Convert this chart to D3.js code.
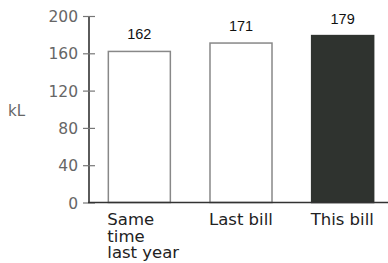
<!DOCTYPE html>
<html><head><meta charset="utf-8">
<script src="https://cdn.jsdelivr.net/npm/d3@7"></script>
<style>body{margin:0;background:#fff}svg{display:block}</style>
</head><body>
<svg id="c" width="388" height="263"></svg>
<script>
const categories = [["Same","time","last year"],["Last bill"],["This bill"]];
const values = [162, 171, 179];
const yTicks = [0, 40, 80, 120, 160, 200];
const yLabel = "kL";

const svg = d3.select("#c");
const keys = categories.map(c => c.join(" "));
const x = d3.scaleBand().domain(keys).range([88, 394]).paddingInner(0.39).paddingOuter(0.2);
const y = d3.scaleLinear().domain([0, 200]).range([202.5, 16]);

// y axis
const yAxis = d3.axisLeft(y).tickValues(yTicks).tickSize(6).tickPadding(3);
const gy = svg.append("g").attr("transform", "translate(89,0)").call(yAxis);
gy.select(".domain").attr("stroke", "#333").attr("stroke-width", 1.6).attr("d", `M0,${y(200)}V${y(0)}`);
gy.selectAll(".tick line").attr("stroke", "#777").attr("stroke-width", 1.2).attr("x1", 6).attr("x2", -6);
gy.selectAll(".tick text").attr("font-family", "DejaVu Sans").attr("font-size", 15.5).attr("fill", "#666").attr("dx", -2).attr("dy", "0.36em");

svg.append("text").attr("x", 8).attr("y", 116).text(yLabel)
  .attr("font-family", "DejaVu Sans").attr("font-size", 15).attr("fill", "#666");

// bars
svg.selectAll("rect.bar").data(values).join("rect")
  .attr("class", "bar")
  .attr("x", (d, i) => x(keys[i]))
  .attr("y", d => y(d))
  .attr("width", x.bandwidth())
  .attr("height", d => y(0) - y(d))
  .attr("fill", (d, i) => i === 2 ? "#2f332f" : "#fff")
  .attr("stroke", (d, i) => i === 2 ? "#2f332f" : "#888")
  .attr("stroke-width", 1.5);

// baseline
svg.append("line").attr("x1", 88).attr("x2", 388).attr("y1", y(0)).attr("y2", y(0))
  .attr("stroke", "#333").attr("stroke-width", 1.6);

// value labels
svg.selectAll("text.val").data(values).join("text")
  .attr("class", "val")
  .attr("x", (d, i) => x(keys[i]) + x.bandwidth() / 2)
  .attr("y", d => y(d) - 12)
  .attr("text-anchor", "middle")
  .attr("font-family", "Liberation Sans, Arial").attr("font-size", 14.5).attr("fill", "#111")
  .text(d => d);

// category labels
categories.forEach((lines, i) => {
  const t = svg.append("text")
    .attr("font-family", "DejaVu Sans").attr("font-size", 16.5).attr("fill", "#222")
    .attr("font-weight", 500);
  lines.forEach((ln, j) => {
    t.append("tspan").attr("x", x(keys[i]) - 1).attr("y", 225 + j * 16.5).text(ln);
  });
});
</script>
</body></html>
